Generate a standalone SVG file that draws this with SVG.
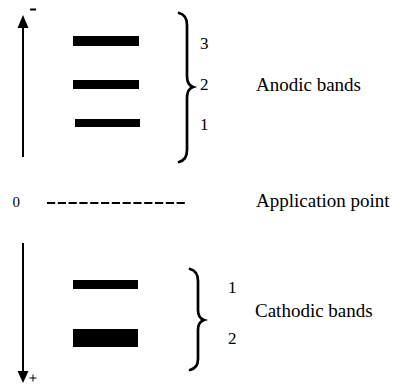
<svg xmlns="http://www.w3.org/2000/svg" width="393" height="391" viewBox="0 0 393 391">
<style>
text{font-family:"Liberation Serif","Times New Roman",serif;fill:#000}
.lbl{font-size:19px}
.num{font-size:17px}
.brace{fill:none;stroke:#000;stroke-width:2.7;stroke-linecap:round}
.axis{stroke:#000;stroke-width:2}
</style>
<rect width="393" height="391" fill="#fff"/>
<g id="axis-top">
<line class="axis" x1="23" y1="157" x2="23" y2="27"/>
<polygon points="23,15 17.5,28 28.5,28" fill="#000"/>
<line x1="30" y1="9.5" x2="36" y2="9.5" stroke="#000" stroke-width="2"/>
</g>
<g id="anodic-bands">
<rect x="73" y="36" width="66" height="10" fill="#000"/>
<rect x="73" y="80" width="66" height="9" fill="#000"/>
<rect x="75" y="119" width="65" height="8" fill="#000"/>
<path class="brace" d="M179,13 Q187,15 187,25 L187,76 Q187,85 193,87 Q187,89 187,98 L187,150 Q187,160 179,162"/>
<text class="num" x="200" y="49">3</text>
<text class="num" x="200" y="90">2</text>
<text class="num" x="200" y="130">1</text>
<text class="lbl" x="256" y="91">Anodic bands</text>
</g>
<g id="application-point">
<text x="12.5" y="207" style="font-size:15px">0</text>
<line x1="47" y1="203" x2="185" y2="203" stroke="#000" stroke-width="2" stroke-dasharray="8.2 2.6"/>
<text class="lbl" x="256" y="207">Application point</text>
</g>
<g id="cathodic-bands">
<rect x="73" y="280" width="65" height="9" fill="#000"/>
<rect x="73" y="329" width="65" height="18" fill="#000"/>
<path class="brace" d="M190,269 Q198,271 198,281 L198,310 Q198,318 204,320 Q198,322 198,330 L198,359 Q198,368 190,370"/>
<text class="num" x="228" y="293">1</text>
<text class="num" x="228" y="344">2</text>
<text class="lbl" x="255" y="317">Cathodic bands</text>
</g>
<g id="axis-bottom">
<line class="axis" x1="23" y1="243" x2="23" y2="372"/>
<polygon points="23,383 17.5,371 28.5,371" fill="#000"/>
<line x1="29.5" y1="378" x2="36.5" y2="378" stroke="#000" stroke-width="1"/>
<line x1="33" y1="374.5" x2="33" y2="381.5" stroke="#000" stroke-width="1"/>
</g>
</svg>
